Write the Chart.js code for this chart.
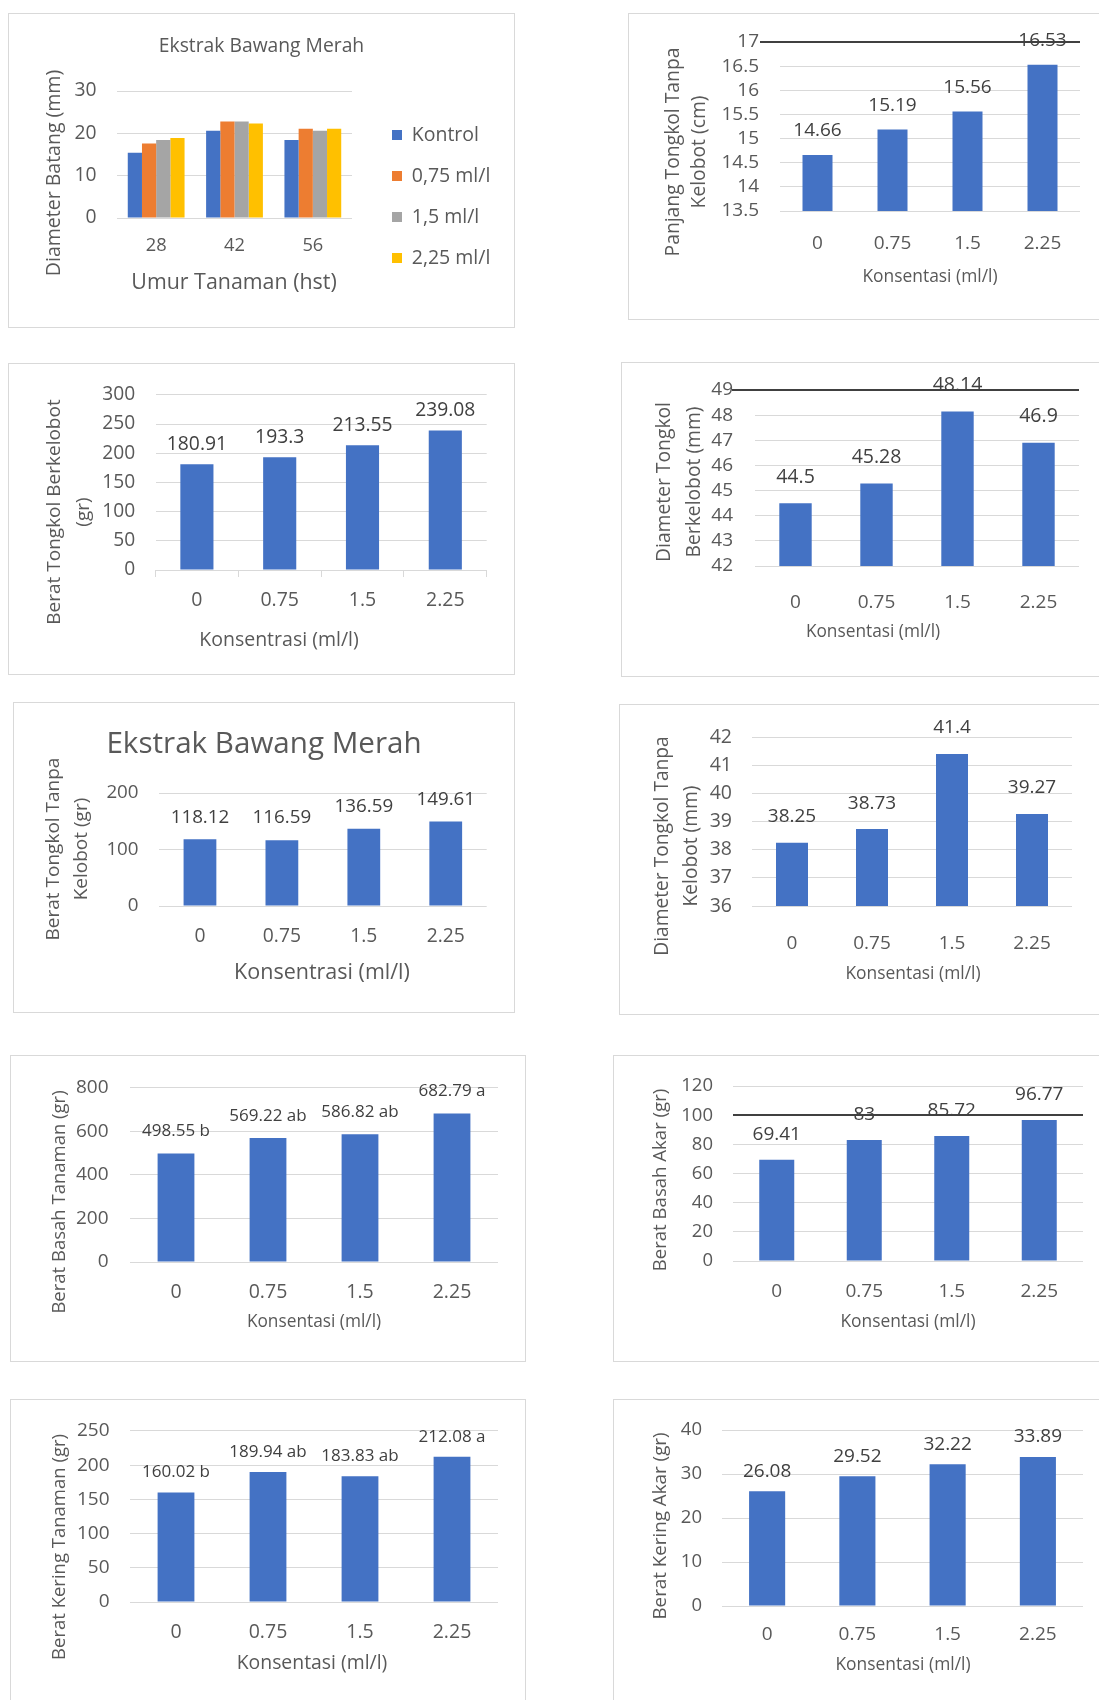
<!DOCTYPE html>
<html lang="id">
<head>
<meta charset="utf-8">
<title>Ekstrak Bawang Merah</title>
<script src="https://cdn.jsdelivr.net/npm/chart.js@4.4.1/dist/chart.umd.min.js"></script>
<style>
  html, body { margin: 0; padding: 0; background: #fff; }
  body { position: relative; width: 1099px; height: 1700px; overflow: hidden; }
  .panel { position: absolute; box-sizing: border-box; border: 1px solid #d9d9d9; }
  canvas { position: absolute; }
</style>
</head>
<body>
<script>
// ---- data ----
const konsentrasi = ['0', '0.75', '1.5', '2.25'];
const umurTanaman = ['28', '42', '56'];
const perlakuan = ['Kontrol', '0,75 ml/l', '1,5 ml/l', '2,25 ml/l'];

const diameterBatangKontrol = [15.4, 20.6, 18.4];
const diameterBatang075 = [17.6, 22.8, 21.1];
const diameterBatang150 = [18.4, 22.8, 20.6];
const diameterBatang225 = [18.9, 22.3, 21.1];

const panjangTongkolTanpaKelobot = [14.66, 15.19, 15.56, 16.53];
const beratTongkolBerkelobot = [180.91, 193.3, 213.55, 239.08];
const diameterTongkolBerkelobot = [44.5, 45.28, 48.14, 46.9];
const beratTongkolTanpaKelobot = [118.12, 116.59, 136.59, 149.61];
const diameterTongkolTanpaKelobot = [38.25, 38.73, 41.4, 39.27];
const beratBasahTanaman = [498.55, 569.22, 586.82, 682.79];
const notasiBasahTanaman = ['b', 'ab', 'ab', 'a'];
const beratBasahAkar = [69.41, 83, 85.72, 96.77];
const beratKeringTanaman = [160.02, 189.94, 183.83, 212.08];
const notasiKeringTanaman = ['b', 'ab', 'ab', 'a'];
const beratKeringAkar = [26.08, 29.52, 32.22, 33.89];

// ---- styling ----
const FONT = "'Open Sans', 'DejaVu Sans', sans-serif";
const TEXT = '#595959';
const LABEL = '#404040';
const GRID = '#d9d9d9';
const DARK = '#404040';
const BLUE = '#4472C4';
const SERIES_COLORS = ['#4472C4', '#ED7D31', '#A5A5A5', '#FFC000'];

Chart.defaults.font.family = FONT;
Chart.defaults.color = TEXT;

const px = size => size + 'px ' + FONT;
const plainNumber = v => String(Number(v.toFixed(3)));
const labelTexts = (values, notes) => values.map((v, i) => notes ? v + ' ' + notes[i] : String(v));
const singleSeries = values => [{
  data: values, backgroundColor: BLUE, borderWidth: 0,
  categoryPercentage: 0.4, barPercentage: 1
}];

// value labels above bars plus the axis titles
function textPlugin(p) {
  const [bx, by] = p.box;
  return {
    id: 'panelText',
    afterDatasetsDraw(chart) {
      const ctx = chart.ctx;
      ctx.save();
      ctx.textAlign = 'center';
      ctx.textBaseline = 'middle';
      if (p.values) {
        ctx.fillStyle = LABEL;
        ctx.font = px(p.values.size);
        chart.getDatasetMeta(0).data.forEach((bar, i) => {
          ctx.fillText(p.values.texts[i], bar.x, bar.y - p.values.offset);
        });
      }
      ctx.fillStyle = TEXT;
      const xt = p.xTitle;
      ctx.font = px(xt.size);
      ctx.fillText(xt.text, xt.cx - bx, xt.cy - by);
      const yt = p.yTitle;
      ctx.font = px(yt.size);
      ctx.translate(yt.cx - bx, yt.cy - by);
      ctx.rotate(-Math.PI / 2);
      yt.lines.forEach((line, i) => ctx.fillText(line, 0, i * (yt.gap || 0)));
      ctx.restore();
    }
  };
}

function buildPanel(p) {
  const [bx, by, bw, bh] = p.box;
  const [L, T, R, B] = p.plot;

  const frame = document.createElement('div');
  frame.className = 'panel';
  frame.style.cssText = `left:${bx}px;top:${by}px;width:${bw}px;height:${bh}px`;
  document.body.appendChild(frame);

  const canvas = document.createElement('canvas');
  canvas.width = bw;
  canvas.height = bh;
  canvas.style.cssText = `left:${bx}px;top:${by}px;width:${bw}px;height:${bh}px`;
  document.body.appendChild(canvas);

  let rightPad = bx + bw - R;
  let side = p.title ? rightPad : 0;   // symmetric padding keeps the chart title centred
  let spacer = 0;
  let legendOpts = { display: false };

  if (p.legend) {
    const lg = p.legend;
    const ctx = canvas.getContext('2d');
    ctx.font = px(lg.size);
    const textW = Math.max(...p.datasets.map(d => ctx.measureText(d.label).width));
    const itemW = lg.box + lg.size / 2 + textW;
    const legendW = lg.padding + itemW + 10;      // vertical legends add 10px
    side = bx + bw - lg.markerX - itemW - 10;
    rightPad = side;
    spacer = (bw - side - legendW) - (R - bx);
    legendOpts = {
      display: true, position: 'right', align: 'start', maxWidth: 400,
      title: { display: true, text: '', font: { size: 10 },
               padding: { top: lg.firstCy - by - 12 - lg.padding - lg.size / 2, bottom: 0 } },
      labels: { boxWidth: lg.box, boxHeight: lg.box, padding: lg.padding,
                font: { size: lg.size }, color: TEXT }
    };
  }

  let titleOpts = { display: false };
  if (p.title) {
    const lh = p.title.size * 1.2;
    const top = p.title.cy - by - lh / 2;
    titleOpts = {
      display: true, text: p.title.text, color: TEXT,
      font: { size: p.title.size, weight: 'normal' },
      padding: { top: top, bottom: T - by - top - lh }
    };
  }

  const yTickLen = p.y.darkTick || 0;
  const isDark = c => c.tick && p.y.dark !== undefined && Math.abs(c.tick.value - p.y.dark) < 1e-9;
  const tm = p.x.tickMarks || 0;

  const scales = {
    x: {
      ticks: {
        font: { size: p.x.size }, color: TEXT, autoSkip: false, maxRotation: 0, minRotation: 0,
        padding: p.x.tickCy - B - tm - p.x.size * 0.6
      },
      grid: tm
        ? { display: true, drawOnChartArea: false, drawTicks: true, tickLength: tm, color: GRID }
        : { display: false, drawTicks: false },
      border: tm ? { display: true, color: GRID } : { display: false },
      afterFit: s => { s.height = by + bh - B; }
    },
    y: {
      min: p.y.min, max: p.y.max,
      ticks: { stepSize: p.y.step, autoSkip: false, font: { size: p.y.size }, color: TEXT,
               padding: L - yTickLen - p.y.labelRight, callback: plainNumber },
      grid: {
        color: c => isDark(c) ? DARK : GRID,
        lineWidth: c => isDark(c) ? 2 : 1,
        drawTicks: yTickLen > 0,
        tickLength: yTickLen,
        tickColor: c => isDark(c) ? DARK : 'rgba(0,0,0,0)'
      },
      border: { display: false },
      afterFit: s => { s.width = L - bx - side; }
    }
  };
  if (p.legend) {
    scales.y2 = {
      position: 'right', display: true,
      grid: { display: false, drawTicks: false }, border: { display: false },
      ticks: { display: false },
      afterFit: s => { s.width = spacer; }
    };
  }

  new Chart(canvas, {
    type: 'bar',
    data: { labels: p.labels, datasets: p.datasets },
    options: {
      responsive: false, animation: false, devicePixelRatio: 1, events: [],
      layout: { padding: { left: side, right: rightPad, top: p.title ? 0 : T - by, bottom: 0 } },
      plugins: { legend: legendOpts, title: titleOpts, tooltip: { enabled: false } },
      scales
    },
    plugins: [textPlugin(p)]
  });
}

const panels = [
  { // Diameter batang per umur tanaman
    box: [8, 13, 507, 315], plot: [117, 91, 352, 218],
    labels: umurTanaman,
    datasets: [diameterBatangKontrol, diameterBatang075, diameterBatang150, diameterBatang225].map((d, i) => ({
      label: perlakuan[i], data: d, backgroundColor: SERIES_COLORS[i], borderWidth: 0,
      categoryPercentage: 0.725, barPercentage: 1
    })),
    title: { text: 'Ekstrak Bawang Merah', size: 19.3, cy: 47 },
    legend: { size: 19.5, box: 10, padding: 21.5, markerX: 392, firstCy: 135 },
    y: { min: 0, max: 30, step: 10, size: 19.3, labelRight: 96.5 },
    x: { size: 18.3, tickCy: 246 },
    xTitle: { text: 'Umur Tanaman (hst)', cx: 234, cy: 283, size: 21.4 },
    yTitle: { lines: ['Diameter Batang (mm)'], cx: 54, cy: 173, size: 19.5 }
  },
  { // Panjang tongkol tanpa kelobot
    box: [628, 13, 480, 307], plot: [780, 42, 1080, 211],
    labels: konsentrasi, datasets: singleSeries(panjangTongkolTanpaKelobot),
    values: { texts: labelTexts(panjangTongkolTanpaKelobot), size: 19, offset: 24 },
    y: { min: 13.5, max: 17, step: 0.5, size: 19, labelRight: 759, dark: 17, darkTick: 20 },
    x: { size: 19, tickCy: 244 },
    xTitle: { text: 'Konsentasi (ml/l)', cx: 930, cy: 277, size: 17.4 },
    yTitle: { lines: ['Panjang Tongkol Tanpa', 'Kelobot (cm)'], cx: 674, cy: 152, size: 19.3, gap: 26 }
  },
  { // Berat tongkol berkelobot
    box: [8, 363, 507, 312], plot: [155.5, 388, 486.7, 570],
    labels: konsentrasi, datasets: singleSeries(beratTongkolBerkelobot),
    values: { texts: labelTexts(beratTongkolBerkelobot), size: 19.3, offset: 20 },
    y: { min: 0, max: 300, step: 50, size: 19.2, labelRight: 135.2 },
    x: { size: 19.5, tickCy: 600, tickMarks: 7 },
    xTitle: { text: 'Konsentrasi (ml/l)', cx: 279, cy: 640, size: 19.5 },
    yTitle: { lines: ['Berat Tongkol Berkelobot', '(gr)'], cx: 55, cy: 512, size: 19, gap: 28.4 }
  },
  { // Diameter tongkol berkelobot
    box: [621, 362, 487, 315], plot: [755, 390, 1079, 566],
    labels: konsentrasi, datasets: singleSeries(diameterTongkolBerkelobot),
    values: { texts: labelTexts(diameterTongkolBerkelobot), size: 19.5, offset: 26 },
    y: { min: 42, max: 49, step: 1, size: 19, labelRight: 733, dark: 49, darkTick: 23 },
    x: { size: 19, tickCy: 603 },
    xTitle: { text: 'Konsentasi (ml/l)', cx: 873, cy: 632, size: 17.3 },
    yTitle: { lines: ['Diameter Tongkol', 'Berkelobot (mm)'], cx: 665, cy: 482, size: 19.3, gap: 30 }
  },
  { // Berat tongkol tanpa kelobot
    box: [13, 702, 502, 311], plot: [159, 793, 486.7, 906],
    labels: konsentrasi, datasets: singleSeries(beratTongkolTanpaKelobot),
    values: { texts: labelTexts(beratTongkolTanpaKelobot), size: 18.8, offset: 22 },
    title: { text: 'Ekstrak Bawang Merah', size: 29.6, cy: 745 },
    y: { min: 0, max: 200, step: 100, size: 18.8, labelRight: 138.6 },
    x: { size: 19.3, tickCy: 937 },
    xTitle: { text: 'Konsentrasi (ml/l)', cx: 322, cy: 973, size: 21.5 },
    yTitle: { lines: ['Berat Tongkol Tanpa', 'Kelobot (gr)'], cx: 54, cy: 849, size: 19, gap: 27.4 }
  },
  { // Diameter tongkol tanpa kelobot
    box: [619, 704, 489, 311], plot: [752, 737, 1072, 906],
    labels: konsentrasi, datasets: singleSeries(diameterTongkolTanpaKelobot),
    values: { texts: labelTexts(diameterTongkolTanpaKelobot), size: 19, offset: 26 },
    y: { min: 36, max: 42, step: 1, size: 19.5, labelRight: 732 },
    x: { size: 19, tickCy: 944 },
    xTitle: { text: 'Konsentasi (ml/l)', cx: 913, cy: 974, size: 17.4 },
    yTitle: { lines: ['Diameter Tongkol Tanpa', 'Kelobot (mm)'], cx: 663, cy: 846, size: 19.2, gap: 29 }
  },
  { // Berat basah tanaman
    box: [10, 1055, 516, 307], plot: [130, 1082, 498, 1262],
    labels: konsentrasi, datasets: singleSeries(beratBasahTanaman),
    values: { texts: labelTexts(beratBasahTanaman, notasiBasahTanaman), size: 17, offset: 22 },
    y: { min: 0, max: 800, step: 200, size: 19, labelRight: 108.5 },
    x: { size: 19.5, tickCy: 1292 },
    xTitle: { text: 'Konsentasi (ml/l)', cx: 314, cy: 1322, size: 17.3 },
    yTitle: { lines: ['Berat Basah Tanaman (gr)'], cx: 60, cy: 1202, size: 18.5 }
  },
  { // Berat basah akar
    box: [613, 1055, 495, 307], plot: [733, 1083, 1083, 1261],
    labels: konsentrasi, datasets: singleSeries(beratBasahAkar),
    values: { texts: labelTexts(beratBasahAkar), size: 19, offset: 25 },
    y: { min: 0, max: 120, step: 20, size: 18.5, labelRight: 713, dark: 100 },
    x: { size: 19, tickCy: 1292 },
    xTitle: { text: 'Konsentasi (ml/l)', cx: 908, cy: 1322, size: 17.4 },
    yTitle: { lines: ['Berat Basah Akar (gr)'], cx: 661, cy: 1180, size: 18.6 }
  },
  { // Berat kering tanaman
    box: [10, 1399, 516, 311], plot: [130, 1424, 498, 1602],
    labels: konsentrasi, datasets: singleSeries(beratKeringTanaman),
    values: { texts: labelTexts(beratKeringTanaman, notasiKeringTanaman), size: 17, offset: 20 },
    y: { min: 0, max: 250, step: 50, size: 19, labelRight: 109.5 },
    x: { size: 19.5, tickCy: 1632 },
    xTitle: { text: 'Konsentasi (ml/l)', cx: 312, cy: 1663, size: 19.4 },
    yTitle: { lines: ['Berat Kering Tanaman (gr)'], cx: 60, cy: 1547, size: 18.5 }
  },
  { // Berat kering akar
    box: [613, 1399, 495, 311], plot: [722, 1424, 1083, 1606],
    labels: konsentrasi, datasets: singleSeries(beratKeringAkar),
    values: { texts: labelTexts(beratKeringAkar), size: 19, offset: 20 },
    y: { min: 0, max: 40, step: 10, size: 18.5, labelRight: 702 },
    x: { size: 19, tickCy: 1635 },
    xTitle: { text: 'Konsentasi (ml/l)', cx: 903, cy: 1665, size: 17.4 },
    yTitle: { lines: ['Berat Kering Akar (gr)'], cx: 661, cy: 1526, size: 18.8 }
  }
];

panels.forEach(buildPanel);
</script>
</body>
</html>
